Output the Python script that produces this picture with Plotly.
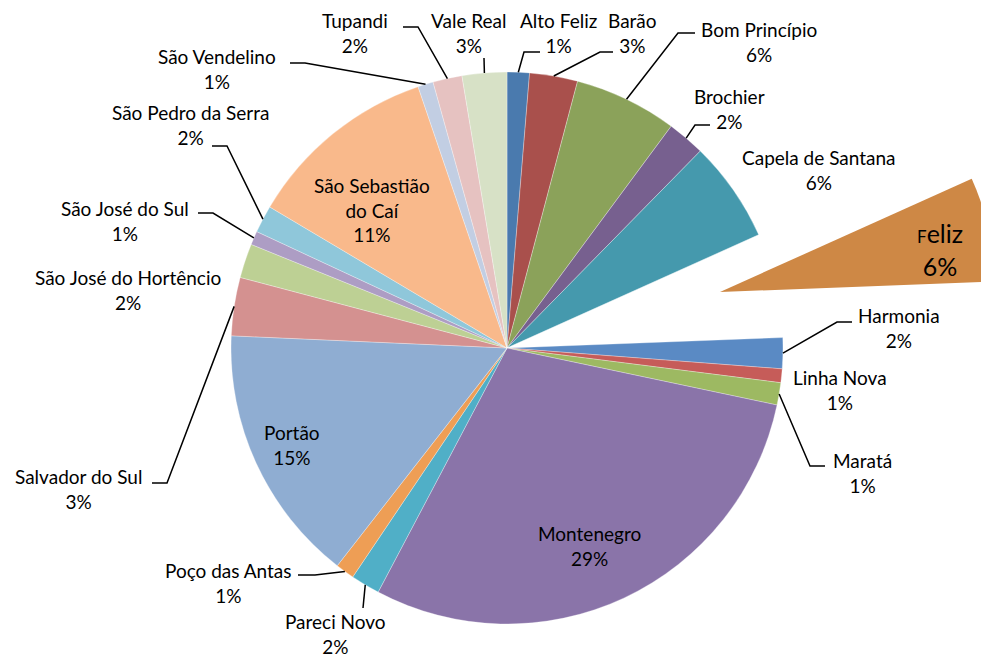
import math
import plotly.graph_objects as go

# ---- data ----
labels = ["Alto Feliz", "Barão", "Bom Princípio", "Brochier", "Capela de Santana",
          "Feliz", "Harmonia", "Linha Nova", "Maratá", "Montenegro", "Pareci Novo",
          "Poço das Antas", "Portão", "Salvador do Sul", "São José do Hortêncio",
          "São José do Sul", "São Pedro da Serra", "São Sebastião do Caí",
          "São Vendelino", "Tupandi", "Vale Real"]
values = [1.3, 2.8, 6.0, 2.2, 5.9, 6.1, 1.8, 0.8, 1.3, 29.3, 1.7, 1.1, 15.1, 3.4,
          2.0, 0.8, 1.6, 11.2, 0.9, 1.7, 2.6]
colors = ["#4A7AAE", "#A9504C", "#8BA25A", "#77608F", "#4599AD", "#CE8845",
          "#5A8AC4", "#C65C59", "#9DB962", "#8A74A9", "#50AFC7", "#EE9E55",
          "#8FADD2", "#D49190", "#BDD094", "#AD9DC4", "#8FC7DA", "#F9B98B",
          "#C2CEE3", "#E6C2C1", "#D7E1C6"]
pulled = "Feliz"

W, H = 989, 649
OFF = 8                              # page body margin
CX, CY, R = 507, 348, 276            # main pie centre / radius (screen px)
FX, FY = 720, 292                    # centre of exploded slice (screen px)

def px(x):
    return (x - OFF) / W

def py(y):
    return 1 - (y - OFF) / H

fig = go.Figure()

main_colors = ["rgba(0,0,0,0)" if l == pulled else c for l, c in zip(labels, colors)]
fig.add_trace(go.Pie(
    labels=labels, values=values, sort=False, direction="clockwise", rotation=0,
    marker=dict(colors=main_colors, line=dict(width=0.6, color="rgba(255,255,255,0.5)")),
    textinfo="none", hoverinfo="skip", showlegend=False,
    domain=dict(x=[px(CX - R), px(CX + R)], y=[py(CY + R), py(CY - R)]),
))

feliz_colors = [c if l == pulled else "rgba(0,0,0,0)" for l, c in zip(labels, colors)]
fig.add_trace(go.Pie(
    labels=labels, values=values, sort=False, direction="clockwise", rotation=0,
    marker=dict(colors=feliz_colors, line=dict(width=0)),
    textinfo="none", hoverinfo="skip", showlegend=False,
    domain=dict(x=[px(FX - R), min(1.0, px(FX + R))], y=[py(FY + R), py(FY - R)]),
))

total = sum(values)
pct = {l: round(v / total * 100) for l, v in zip(labels, values)}

# mid-angle anchors on the rim (computed from the data)
anchors = {}
cum = 0.0
for l, v in zip(labels, values):
    mid = (cum + v / 2) / total * 2 * math.pi
    anchors[l] = (CX + R * math.sin(mid), CY - R * math.cos(mid))
    cum += v

# label centre positions (screen px)
label_pos = {
    "Tupandi": (355, 33), "Vale Real": (469, 33), "Alto Feliz": (558, 33),
    "Barão": (632, 33), "Bom Princípio": (759, 42), "Brochier": (729, 109),
    "Capela de Santana": (819, 170), "Harmonia": (899, 328),
    "Linha Nova": (840, 390), "Maratá": (862, 473), "Montenegro": (589, 546),
    "Pareci Novo": (335, 634), "Poço das Antas": (228, 583), "Portão": (292, 445),
    "Salvador do Sul": (78, 489), "São José do Hortêncio": (128, 290),
    "São José do Sul": (125, 221), "São Pedro da Serra": (190, 125),
    "São Vendelino": (217, 69),
}

FONT = "Lato, 'Open Sans', sans-serif"
FS = 19
for l in labels:
    if l in label_pos:
        x, y = label_pos[l]
        fig.add_annotation(x=px(x), y=py(y), xref="paper", yref="paper",
                           text=f"{l}<br>{pct[l]}%", showarrow=False,
                           xanchor="center", yanchor="middle",
                           font=dict(family=FONT, size=FS, color="#000000"))

fig.add_annotation(x=px(372), y=py(210), xref="paper", yref="paper",
                   text=f"São Sebastião<br>do Caí<br>{pct['São Sebastião do Caí']}%",
                   showarrow=False, xanchor="center", yanchor="middle",
                   font=dict(family=FONT, size=FS, color="#000000"))
fig.add_annotation(x=px(940), y=py(249), xref="paper", yref="paper",
                   text=f"<span style='font-size:17px'>F</span>eliz<br>{pct['Feliz']}%",
                   showarrow=False, xanchor="center", yanchor="middle",
                   font=dict(family=FONT, size=25, color="#000000"))

# leader lines: rim anchor -> elbow -> end (screen px)
leaders = {
    "Tupandi": [(418, 27), (403, 27)],
    "Vale Real": [(484, 58)],
    "Alto Feliz": [(524, 52), (540, 52)],
    "Barão": [(600, 52), (613, 52)],
    "Bom Princípio": [(678, 33), (695, 33)],
    "Brochier": [(695, 125), (710, 125)],
    "Harmonia": [(837, 322), (852, 322)],
    "Maratá": [(810, 466), (825, 466)],
    "Pareci Novo": [(363, 608)],
    "Poço das Antas": [(315, 575), (298, 575)],
    "Salvador do Sul": [(167, 483), (152, 483)],
    "São José do Sul": [(213, 213), (198, 213)],
    "São Pedro da Serra": [(227, 146), (212, 146)],
    "São Vendelino": [(305, 63), (290, 63)],
}
for l, pts in leaders.items():
    ax, ay = anchors[l]
    path = f"M {px(ax)} {py(ay)}"
    for (x, y) in pts:
        path += f" L {px(x)} {py(y)}"
    fig.add_shape(type="path", path=path, xref="paper", yref="paper",
                  line=dict(color="#000000", width=1.5))

fig.update_layout(
    width=W, height=H, margin=dict(l=0, r=0, t=0, b=0),
    paper_bgcolor="white", plot_bgcolor="white", showlegend=False,
)
fig.write_html("out.html")
